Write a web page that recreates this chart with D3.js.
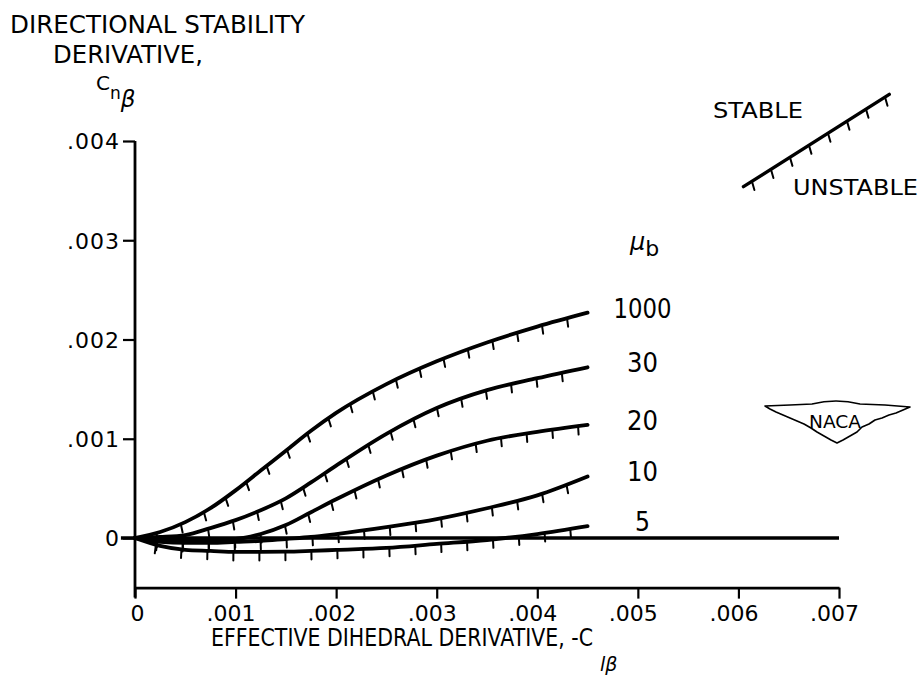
<!DOCTYPE html>
<html><head><meta charset="utf-8">
<script src="https://cdn.jsdelivr.net/npm/d3@7"></script>
<style>body{margin:0;background:#fff} svg{display:block} text{font-family:"DejaVu Sans",sans-serif;fill:#000}</style>
</head><body>
<svg id="c" width="922" height="687"></svg>
<script>
// ---- data ----
const xValues = [0, .00025, .0005, .00075, .001, .00125, .0015, .00175, .002, .0025, .003, .0035, .004, .0045];
const mu1000 = [0, .00006, .00016, .0003, .00048, .00068, .00088, .00108, .00126, .00155, .00178, .00197, .00213, .00227];
const mu30   = [0, .00001, .00003, .0001, .00018, .00028, .0004, .00056, .00073, .00105, .00131, .00149, .00161, .00172];
const mu20   = [0, -.00001, -.00002, -.00002, -.00001, .00004, .00013, .00026, .00039, .00063, .00083, .00098, .00107, .00114];
const mu10   = [0, -.00004, -.00005, -.00005, -.00004, -.00003, -.00001, .00001, .00004, .00011, .00019, .0003, .00043, .00062];
const mu5    = [0, -.00008, -.00012, -.00013, -.00014, -.00014, -.000138, -.00013, -.00012, -.0001, -.00006, -.00002, .00004, .00012];
const seriesNames = ["1000", "30", "20", "10", "5"];
const seriesValues = [mu1000, mu30, mu20, mu10, mu5];
const xTicks = [0, .001, .002, .003, .004, .005, .006, .007];
const xTickLabels = ["0", ".001", ".002", ".003", ".004", ".005", ".006", ".007"];
const yTicks = [0, .001, .002, .003, .004];
const yTickLabels = ["0", ".001", ".002", ".003", ".004"];
const legendLine = [[.00605, .00354], [.0075, .00447]];

// ---- scales ----
const svg = d3.select("#c");
const x = d3.scaleLinear().domain([0, .007]).range([135, 839]);
const y = d3.scaleLinear().domain([0, .004]).range([538, 141]);

// hatch helper
function hatch(pathNode, start, step, len, endPad) {
  const L = pathNode.getTotalLength();
  const g = svg.append("g").attr("stroke", "#000").attr("stroke-width", 2).attr("stroke-linecap", "round");
  for (let s = start; s < L - endPad; s += step) {
    const p = pathNode.getPointAtLength(s), q = pathNode.getPointAtLength(Math.min(s + 1, L));
    let tx = q.x - p.x, ty = q.y - p.y; const tl = Math.hypot(tx, ty) || 1; tx /= tl; ty /= tl;
    let nx = -ty, ny = tx; if (ny < 0) { nx = -nx; ny = -ny; }
    let dx = nx * 0.5, dy = ny * 0.5 + 0.5; const dl = Math.hypot(dx, dy); dx /= dl; dy /= dl;
    g.append("line").attr("x1", p.x).attr("y1", p.y).attr("x2", p.x + dx * len).attr("y2", p.y + dy * len);
  }
}

// ---- axes ----
svg.append("line").attr("x1", x(0)).attr("x2", x(0)).attr("y1", y(.004)).attr("y2", y(-.0006))
  .attr("stroke", "#000").attr("stroke-width", 2.8);
const yAxis = svg.append("g").attr("transform", `translate(${x(0)},0)`)
  .call(d3.axisLeft(y).tickValues(yTicks).tickSize(12).tickSizeOuter(0).tickPadding(3)
    .tickFormat((d, i) => yTickLabels[i]));
yAxis.select(".domain").remove();
yAxis.selectAll("line").attr("stroke", "#000").attr("stroke-width", 2.2);
yAxis.selectAll("text").attr("font-size", 22).attr("letter-spacing", 1).attr("font-family", '"DejaVu Sans",sans-serif')
  .attr("fill", "#000").attr("dy", "0.36em");

const xAxis = svg.append("g").attr("transform", `translate(0,${y(-.0005)})`)
  .call(d3.axisBottom(x).tickValues(xTicks).tickSize(11).tickSizeOuter(0).tickPadding(7)
    .tickFormat((d, i) => xTickLabels[i]));
xAxis.select(".domain").attr("stroke", "#000").attr("stroke-width", 2.8);
xAxis.selectAll("line").attr("stroke", "#000").attr("stroke-width", 2.2);
xAxis.selectAll("text").attr("font-size", 22).attr("font-family", '"DejaVu Sans",sans-serif').attr("fill", "#000")
  .attr("dx", (d, i) => i === 0 ? 2 : -5);

// zero line
svg.append("line").attr("x1", x(-.00014)).attr("x2", x(.007)).attr("y1", y(0)).attr("y2", y(0))
  .attr("stroke", "#000").attr("stroke-width", 3.4);

// ---- curves ----
const line = d3.line().x((d, i) => x(xValues[i])).y(d => y(d)).curve(d3.curveMonotoneX);
seriesValues.forEach((vals, k) => {
  const p = svg.append("path").datum(vals).attr("d", line).attr("fill", "none")
    .attr("stroke", "#000").attr("stroke-width", 3.8).attr("stroke-linecap", "round");
  hatch(p.node(), 22, 26, 8.5, 4);
  const last = vals[vals.length - 1];
  svg.append("text").attr("x", x(xValues[xValues.length - 1]) + 55).attr("y", y(last) + 5)
    .attr("text-anchor", "middle").attr("font-size", 26)
    .attr("textLength", seriesNames[k].length === 4 ? 58 : (seriesNames[k].length === 2 ? 31 : 15))
    .attr("lengthAdjust", "spacingAndGlyphs")
    .text(seriesNames[k]);
});

// mu_b header
const mu = svg.append("text").attr("x", 630).attr("y", 250).attr("font-size", 24);
mu.append("tspan").attr("font-style", "italic").text("μ");
mu.append("tspan").attr("font-size", 22).attr("dy", 6).text("b");

// ---- titles ----
svg.append("text").attr("x", 10).attr("y", 33).attr("font-size", 24).attr("textLength", 295)
  .attr("lengthAdjust", "spacingAndGlyphs").text("DIRECTIONAL  STABILITY");
svg.append("text").attr("x", 53).attr("y", 63).attr("font-size", 24).attr("textLength", 150)
  .attr("lengthAdjust", "spacingAndGlyphs").text("DERIVATIVE,");
const cn = svg.append("text").attr("x", 96).attr("y", 90).attr("font-size", 20);
cn.append("tspan").text("C");
cn.append("tspan").attr("font-size", 17).attr("dy", 9).text("n");
cn.append("tspan").attr("font-size", 23).attr("font-style", "italic").attr("dy", 8).text("β");

svg.append("text").attr("x", 211).attr("y", 646).attr("font-size", 24).attr("textLength", 382)
  .attr("lengthAdjust", "spacingAndGlyphs").text("EFFECTIVE  DIHEDRAL  DERIVATIVE,  -C");
svg.append("text").attr("x", 600).attr("y", 671).attr("font-size", 19).attr("font-style", "italic").text("lβ");

// ---- stable / unstable legend ----
const lp = svg.append("path").attr("d", d3.line().x(d => x(d[0])).y(d => y(d[1]))(legendLine))
  .attr("stroke", "#000").attr("stroke-width", 3.4).attr("stroke-linecap", "round").attr("fill", "none");
hatch(lp.node(), 10, 22.5, 9, 2);
svg.append("text").attr("x", 713).attr("y", 118).attr("font-size", 21).attr("textLength", 90)
  .attr("lengthAdjust", "spacingAndGlyphs").text("STABLE");
svg.append("text").attr("x", 793).attr("y", 195).attr("font-size", 21).attr("textLength", 125)
  .attr("lengthAdjust", "spacingAndGlyphs").text("UNSTABLE");

// ---- NACA emblem ----
const logo = svg.append("g");
logo.append("path").attr("d",
  "M765,406 L790,405 L812,404 Q836,398 860,404 L885,405 L910,407 L903,410 L896,413 L889,415 L882,418 L875,420 L869,424 L862,427 L857,432 L850,436 L843,440 L837,443 L831,440 L824,436 L817,432 L811,428 L804,424 L797,421 L790,418 L783,415 L776,412 L770,409 Z")
  .attr("fill", "#fff").attr("stroke", "#000").attr("stroke-width", 1.6).attr("stroke-linejoin", "round");
logo.append("text").attr("x", 835).attr("y", 428).attr("text-anchor", "middle").attr("font-size", 17)
  .attr("textLength", 52).attr("lengthAdjust", "spacingAndGlyphs").text("NACA");
</script>
</body></html>
